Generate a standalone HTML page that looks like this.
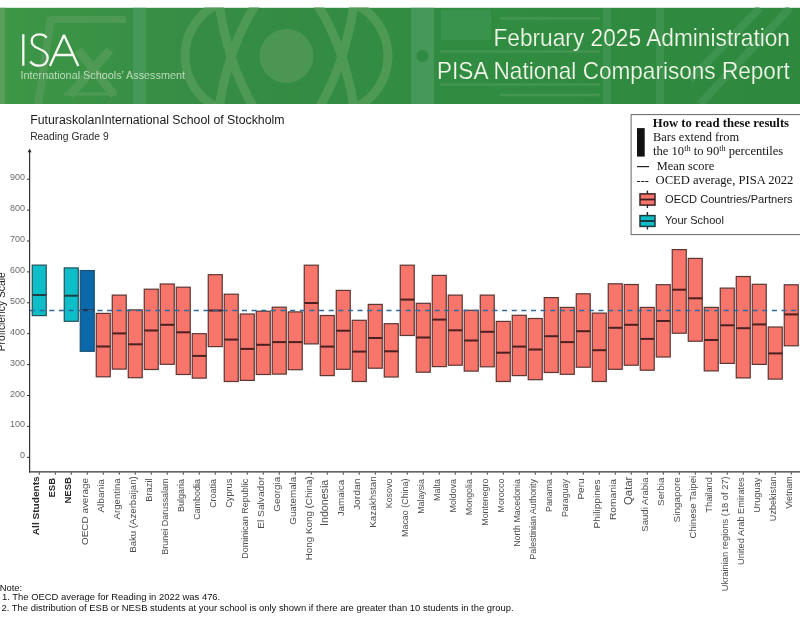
<!DOCTYPE html>
<html><head><meta charset="utf-8"><style>
html,body{margin:0;padding:0;background:#fff;}
body{width:800px;height:640px;overflow:hidden;position:relative;font-family:"Liberation Sans",sans-serif;}
svg{position:absolute;left:0;top:0;will-change:transform;}
text{font-family:"Liberation Sans",sans-serif;}
.serif{font-family:"Liberation Serif",serif;}
</style></head><body>
<svg width="800" height="640" viewBox="0 0 800 640">
<!-- banner -->
<defs>
<clipPath id="bc"><rect x="0" y="7.6" width="800" height="96.4"/></clipPath>
<linearGradient id="bg" x1="0" x2="1" y1="0" y2="0">
<stop offset="0" stop-color="#3d9747"/><stop offset="0.25" stop-color="#368c44"/><stop offset="0.6" stop-color="#308c41"/><stop offset="1" stop-color="#2e893f"/>
</linearGradient>
</defs>
<g clip-path="url(#bc)">
<rect x="0" y="7.6" width="800" height="96.4" fill="url(#bg)"/>
<g fill="none" stroke="#4e9a55" stroke-width="6">
<rect x="0" y="7.6" width="5" height="96.4" fill="#5a9f5a" stroke="none"/>
<rect x="133" y="7.6" width="13" height="96.4" fill="#46975a" stroke="none"/>
<path d="M50 19.5 L126 19.5" stroke-width="7"/>
<path d="M51 17 L38 106" stroke-width="8"/>
<path d="M78 50 L114 95 M110 50 L70 95" stroke-width="9"/>
<path d="M64 94 L117 94" stroke-width="3"/>
<path d="M218 4 C174 26 174 86 218 108 M256 4 Q228 48 219 108 M219 4 Q228 64 254 108" stroke-width="9"/>
<path d="M355 4 C399 26 399 86 355 108 M317 4 Q345 48 354 108 M354 4 Q345 64 319 108" stroke-width="9"/>
<circle cx="286.5" cy="56" r="27" fill="#4a9652" stroke="none"/>
<rect x="411" y="7.6" width="23" height="96.4" fill="#45975a" stroke="none"/>
<circle cx="422.5" cy="56" r="6" fill="#2e8a42" stroke="none"/>
<rect x="441" y="10" width="50" height="30" fill="#3a934c" stroke="none"/>
<path d="M500 18.5 L600 18.5 M440 51.5 L600 51.5 M440 84.5 L600 84.5 M500 95 L600 95" stroke="#43964f" stroke-width="2.5"/>
<path d="M607 8 L607 104 M660 8 L660 104 M790 8 L700 104 M760 8 L690 80" stroke="#3b934d" stroke-width="8"/>
</g>
</g>
<g fill="none" stroke="#f6faf2" stroke-width="2.3">
<line x1="23.3" y1="34.2" x2="23.3" y2="65.8"/>
<path d="M46.6 37.8 C45 35.2 42.5 34.3 39.6 34.3 C35 34.3 31.7 37 31.7 41.2 C31.7 45.5 35 47.3 39.5 49 C44.5 50.9 47.7 53.4 47.7 57.8 C47.7 62.6 44 65.7 39 65.7 C35.2 65.7 32.2 64.2 30.3 61.5"/>
<path d="M49.9 66 L64 35 L78.3 66 M54.6 55 L73.4 55" stroke-linejoin="bevel"/>
</g>
<text x="20.5" y="79" font-size="11" fill="#cfe6cb" stroke="#3a9246" stroke-width="0.12" transform="translate(20.5 0) scale(0.985 1) translate(-20.5 0)">International Schools&#8217; Assessment</text>
<text x="790" y="46.4" font-size="24" fill="#f3f7ea" stroke="#2f8b40" stroke-width="0.2" text-anchor="end" transform="translate(790 0) scale(0.946 1) translate(-790 0)">February 2025 Administration</text>
<text x="789.7" y="78.7" font-size="24" fill="#f3f7ea" stroke="#2f8b40" stroke-width="0.2" text-anchor="end" transform="translate(789.7 0) scale(0.941 1) translate(-789.7 0)">PISA National Comparisons Report</text>

<!-- titles -->
<text x="30.2" y="123.7" font-size="12.3" fill="#1a1a1a">FuturaskolanInternational School of Stockholm</text>
<text x="30.2" y="140.2" font-size="10.3" fill="#2a2a2a">Reading Grade 9</text>

<!-- legend -->
<rect x="631.1" y="114.6" width="180" height="120" fill="#fff" stroke="#666" stroke-width="1"/>
<text class="serif" x="652.8" y="126.6" font-size="12.7" font-weight="700" fill="#111">How to read these results</text>
<rect x="637" y="128.1" width="7.7" height="28.5" fill="#111"/>
<text class="serif" x="653" y="140.8" font-size="12.4" fill="#151515">Bars extend from</text>
<text class="serif" x="653" y="155" font-size="12.6" fill="#151515">the 10<tspan font-size="8.2" dy="-4.5">th</tspan><tspan dy="4.5"> to 90</tspan><tspan font-size="8.2" dy="-4.5">th</tspan><tspan dy="4.5"> percentiles</tspan></text>
<line x1="637" x2="649" y1="166.6" y2="166.6" stroke="#222" stroke-width="1.2"/>
<text class="serif" x="656.7" y="169.7" font-size="12.4" fill="#151515">Mean score</text>
<text class="serif" x="636.5" y="184.3" font-size="12.4" fill="#151515">---</text>
<text class="serif" x="655.6" y="184.3" font-size="12.6" fill="#151515">OCED average, PISA 2022</text>
<line x1="647.4" x2="647.4" y1="190.6" y2="208" stroke="#222" stroke-width="1.4"/>
<rect x="640" y="193.9" width="15" height="11.2" fill="#f7756b" stroke="#3a2424" stroke-width="1.5"/>
<line x1="640" x2="655" y1="199.5" y2="199.5" stroke="#3a1c1c" stroke-width="1.8"/>
<text x="665" y="203.3" font-size="11.1" fill="#1a1a1a">OECD Countries/Partners</text>
<line x1="647.4" x2="647.4" y1="212" y2="229.5" stroke="#222" stroke-width="1.4"/>
<rect x="640" y="215.6" width="15" height="10.8" fill="#0dbdc7" stroke="#1f3a40" stroke-width="1.5"/>
<line x1="640" x2="655" y1="221" y2="221" stroke="#1a3035" stroke-width="1.8"/>
<text x="665" y="224" font-size="11" fill="#1a1a1a">Your School</text>

<!-- chart -->
<text transform="translate(5.3,311.8) rotate(-90)" text-anchor="middle" font-size="10.3" fill="#222">Proficiency Scale</text>
<text x="25" y="458.30" text-anchor="end" font-size="9" fill="#6b6b6b">0</text>
<text x="25" y="427.40" text-anchor="end" font-size="9" fill="#6b6b6b">100</text>
<text x="25" y="396.50" text-anchor="end" font-size="9" fill="#6b6b6b">200</text>
<text x="25" y="365.60" text-anchor="end" font-size="9" fill="#6b6b6b">300</text>
<text x="25" y="334.70" text-anchor="end" font-size="9" fill="#6b6b6b">400</text>
<text x="25" y="303.80" text-anchor="end" font-size="9" fill="#6b6b6b">500</text>
<text x="25" y="272.90" text-anchor="end" font-size="9" fill="#6b6b6b">600</text>
<text x="25" y="242.00" text-anchor="end" font-size="9" fill="#6b6b6b">700</text>
<text x="25" y="211.10" text-anchor="end" font-size="9" fill="#6b6b6b">800</text>
<text x="25" y="180.20" text-anchor="end" font-size="9" fill="#6b6b6b">900</text>
<rect x="32.25" y="265.10" width="14" height="50.50" fill="#0dbdc7" stroke="#24525a" stroke-width="1.2"/>
<line x1="32.25" x2="46.25" y1="295.00" y2="295.00" stroke="#1f3f44" stroke-width="2"/>
<rect x="64.25" y="267.90" width="14" height="53.40" fill="#0dbdc7" stroke="#24525a" stroke-width="1.2"/>
<line x1="64.25" x2="78.25" y1="295.70" y2="295.70" stroke="#1f3f44" stroke-width="2"/>
<rect x="80.25" y="270.55" width="14" height="80.75" fill="#0b68aa" stroke="#1d4f72" stroke-width="1.2"/>
<line x1="80.25" x2="94.25" y1="310.10" y2="310.10" stroke="#1b3550" stroke-width="2"/>
<rect x="96.25" y="313.40" width="14" height="63.40" fill="#f7756b" stroke="#5c3632" stroke-width="1.2"/>
<line x1="96.25" x2="110.25" y1="346.50" y2="346.50" stroke="#4a2020" stroke-width="2"/>
<rect x="112.25" y="295.10" width="14" height="74.00" fill="#f7756b" stroke="#5c3632" stroke-width="1.2"/>
<line x1="112.25" x2="126.25" y1="333.40" y2="333.40" stroke="#4a2020" stroke-width="2"/>
<rect x="128.25" y="309.90" width="14" height="67.80" fill="#f7756b" stroke="#5c3632" stroke-width="1.2"/>
<line x1="128.25" x2="142.25" y1="344.30" y2="344.30" stroke="#4a2020" stroke-width="2"/>
<rect x="144.25" y="289.20" width="14" height="80.30" fill="#f7756b" stroke="#5c3632" stroke-width="1.2"/>
<line x1="144.25" x2="158.25" y1="330.50" y2="330.50" stroke="#4a2020" stroke-width="2"/>
<rect x="160.25" y="284.00" width="14" height="80.30" fill="#f7756b" stroke="#5c3632" stroke-width="1.2"/>
<line x1="160.25" x2="174.25" y1="324.80" y2="324.80" stroke="#4a2020" stroke-width="2"/>
<rect x="176.25" y="287.20" width="14" height="87.30" fill="#f7756b" stroke="#5c3632" stroke-width="1.2"/>
<line x1="176.25" x2="190.25" y1="332.30" y2="332.30" stroke="#4a2020" stroke-width="2"/>
<rect x="192.25" y="333.70" width="14" height="44.40" fill="#f7756b" stroke="#5c3632" stroke-width="1.2"/>
<line x1="192.25" x2="206.25" y1="355.90" y2="355.90" stroke="#4a2020" stroke-width="2"/>
<rect x="208.25" y="274.70" width="14" height="71.90" fill="#f7756b" stroke="#5c3632" stroke-width="1.2"/>
<line x1="208.25" x2="222.25" y1="310.50" y2="310.50" stroke="#4a2020" stroke-width="2"/>
<rect x="224.25" y="294.20" width="14" height="87.30" fill="#f7756b" stroke="#5c3632" stroke-width="1.2"/>
<line x1="224.25" x2="238.25" y1="339.60" y2="339.60" stroke="#4a2020" stroke-width="2"/>
<rect x="240.25" y="314.00" width="14" height="66.40" fill="#f7756b" stroke="#5c3632" stroke-width="1.2"/>
<line x1="240.25" x2="254.25" y1="348.90" y2="348.90" stroke="#4a2020" stroke-width="2"/>
<rect x="256.25" y="311.20" width="14" height="63.30" fill="#f7756b" stroke="#5c3632" stroke-width="1.2"/>
<line x1="256.25" x2="270.25" y1="344.80" y2="344.80" stroke="#4a2020" stroke-width="2"/>
<rect x="272.25" y="307.20" width="14" height="66.90" fill="#f7756b" stroke="#5c3632" stroke-width="1.2"/>
<line x1="272.25" x2="286.25" y1="342.10" y2="342.10" stroke="#4a2020" stroke-width="2"/>
<rect x="288.25" y="311.90" width="14" height="57.80" fill="#f7756b" stroke="#5c3632" stroke-width="1.2"/>
<line x1="288.25" x2="302.25" y1="342.10" y2="342.10" stroke="#4a2020" stroke-width="2"/>
<rect x="304.25" y="265.20" width="14" height="78.70" fill="#f7756b" stroke="#5c3632" stroke-width="1.2"/>
<line x1="304.25" x2="318.25" y1="303.00" y2="303.00" stroke="#4a2020" stroke-width="2"/>
<rect x="320.25" y="315.50" width="14" height="60.10" fill="#f7756b" stroke="#5c3632" stroke-width="1.2"/>
<line x1="320.25" x2="334.25" y1="346.60" y2="346.60" stroke="#4a2020" stroke-width="2"/>
<rect x="336.25" y="290.40" width="14" height="78.90" fill="#f7756b" stroke="#5c3632" stroke-width="1.2"/>
<line x1="336.25" x2="350.25" y1="330.70" y2="330.70" stroke="#4a2020" stroke-width="2"/>
<rect x="352.25" y="320.30" width="14" height="61.20" fill="#f7756b" stroke="#5c3632" stroke-width="1.2"/>
<line x1="352.25" x2="366.25" y1="351.60" y2="351.60" stroke="#4a2020" stroke-width="2"/>
<rect x="368.25" y="304.40" width="14" height="63.80" fill="#f7756b" stroke="#5c3632" stroke-width="1.2"/>
<line x1="368.25" x2="382.25" y1="338.00" y2="338.00" stroke="#4a2020" stroke-width="2"/>
<rect x="384.25" y="323.70" width="14" height="53.30" fill="#f7756b" stroke="#5c3632" stroke-width="1.2"/>
<line x1="384.25" x2="398.25" y1="351.30" y2="351.30" stroke="#4a2020" stroke-width="2"/>
<rect x="400.25" y="265.20" width="14" height="70.30" fill="#f7756b" stroke="#5c3632" stroke-width="1.2"/>
<line x1="400.25" x2="414.25" y1="299.60" y2="299.60" stroke="#4a2020" stroke-width="2"/>
<rect x="416.25" y="303.30" width="14" height="68.90" fill="#f7756b" stroke="#5c3632" stroke-width="1.2"/>
<line x1="416.25" x2="430.25" y1="337.50" y2="337.50" stroke="#4a2020" stroke-width="2"/>
<rect x="432.25" y="275.40" width="14" height="91.20" fill="#f7756b" stroke="#5c3632" stroke-width="1.2"/>
<line x1="432.25" x2="446.25" y1="319.60" y2="319.60" stroke="#4a2020" stroke-width="2"/>
<rect x="448.25" y="295.10" width="14" height="70.10" fill="#f7756b" stroke="#5c3632" stroke-width="1.2"/>
<line x1="448.25" x2="462.25" y1="330.30" y2="330.30" stroke="#4a2020" stroke-width="2"/>
<rect x="464.25" y="310.30" width="14" height="60.80" fill="#f7756b" stroke="#5c3632" stroke-width="1.2"/>
<line x1="464.25" x2="478.25" y1="340.50" y2="340.50" stroke="#4a2020" stroke-width="2"/>
<rect x="480.25" y="295.10" width="14" height="71.70" fill="#f7756b" stroke="#5c3632" stroke-width="1.2"/>
<line x1="480.25" x2="494.25" y1="331.80" y2="331.80" stroke="#4a2020" stroke-width="2"/>
<rect x="496.25" y="321.40" width="14" height="60.10" fill="#f7756b" stroke="#5c3632" stroke-width="1.2"/>
<line x1="496.25" x2="510.25" y1="352.70" y2="352.70" stroke="#4a2020" stroke-width="2"/>
<rect x="512.25" y="315.30" width="14" height="60.30" fill="#f7756b" stroke="#5c3632" stroke-width="1.2"/>
<line x1="512.25" x2="526.25" y1="346.60" y2="346.60" stroke="#4a2020" stroke-width="2"/>
<rect x="528.25" y="318.50" width="14" height="61.20" fill="#f7756b" stroke="#5c3632" stroke-width="1.2"/>
<line x1="528.25" x2="542.25" y1="349.50" y2="349.50" stroke="#4a2020" stroke-width="2"/>
<rect x="544.25" y="297.60" width="14" height="74.90" fill="#f7756b" stroke="#5c3632" stroke-width="1.2"/>
<line x1="544.25" x2="558.25" y1="336.20" y2="336.20" stroke="#4a2020" stroke-width="2"/>
<rect x="560.25" y="307.40" width="14" height="66.90" fill="#f7756b" stroke="#5c3632" stroke-width="1.2"/>
<line x1="560.25" x2="574.25" y1="342.10" y2="342.10" stroke="#4a2020" stroke-width="2"/>
<rect x="576.25" y="293.80" width="14" height="73.40" fill="#f7756b" stroke="#5c3632" stroke-width="1.2"/>
<line x1="576.25" x2="590.25" y1="331.20" y2="331.20" stroke="#4a2020" stroke-width="2"/>
<rect x="592.25" y="313.10" width="14" height="68.40" fill="#f7756b" stroke="#5c3632" stroke-width="1.2"/>
<line x1="592.25" x2="606.25" y1="350.20" y2="350.20" stroke="#4a2020" stroke-width="2"/>
<rect x="608.25" y="283.80" width="14" height="85.50" fill="#f7756b" stroke="#5c3632" stroke-width="1.2"/>
<line x1="608.25" x2="622.25" y1="327.80" y2="327.80" stroke="#4a2020" stroke-width="2"/>
<rect x="624.25" y="284.50" width="14" height="80.70" fill="#f7756b" stroke="#5c3632" stroke-width="1.2"/>
<line x1="624.25" x2="638.25" y1="324.80" y2="324.80" stroke="#4a2020" stroke-width="2"/>
<rect x="640.25" y="307.40" width="14" height="62.80" fill="#f7756b" stroke="#5c3632" stroke-width="1.2"/>
<line x1="640.25" x2="654.25" y1="338.90" y2="338.90" stroke="#4a2020" stroke-width="2"/>
<rect x="656.25" y="284.70" width="14" height="72.30" fill="#f7756b" stroke="#5c3632" stroke-width="1.2"/>
<line x1="656.25" x2="670.25" y1="321.00" y2="321.00" stroke="#4a2020" stroke-width="2"/>
<rect x="672.25" y="249.60" width="14" height="83.60" fill="#f7756b" stroke="#5c3632" stroke-width="1.2"/>
<line x1="672.25" x2="686.25" y1="289.70" y2="289.70" stroke="#4a2020" stroke-width="2"/>
<rect x="688.25" y="258.40" width="14" height="82.80" fill="#f7756b" stroke="#5c3632" stroke-width="1.2"/>
<line x1="688.25" x2="702.25" y1="298.30" y2="298.30" stroke="#4a2020" stroke-width="2"/>
<rect x="704.25" y="307.40" width="14" height="63.50" fill="#f7756b" stroke="#5c3632" stroke-width="1.2"/>
<line x1="704.25" x2="718.25" y1="340.00" y2="340.00" stroke="#4a2020" stroke-width="2"/>
<rect x="720.25" y="288.10" width="14" height="75.30" fill="#f7756b" stroke="#5c3632" stroke-width="1.2"/>
<line x1="720.25" x2="734.25" y1="325.30" y2="325.30" stroke="#4a2020" stroke-width="2"/>
<rect x="736.25" y="276.50" width="14" height="101.40" fill="#f7756b" stroke="#5c3632" stroke-width="1.2"/>
<line x1="736.25" x2="750.25" y1="328.20" y2="328.20" stroke="#4a2020" stroke-width="2"/>
<rect x="752.25" y="284.30" width="14" height="80.10" fill="#f7756b" stroke="#5c3632" stroke-width="1.2"/>
<line x1="752.25" x2="766.25" y1="324.40" y2="324.40" stroke="#4a2020" stroke-width="2"/>
<rect x="768.25" y="327.00" width="14" height="52.10" fill="#f7756b" stroke="#5c3632" stroke-width="1.2"/>
<line x1="768.25" x2="782.25" y1="353.40" y2="353.40" stroke="#4a2020" stroke-width="2"/>
<rect x="784.25" y="284.80" width="14" height="61.00" fill="#f7756b" stroke="#5c3632" stroke-width="1.2"/>
<line x1="784.25" x2="798.25" y1="314.40" y2="314.40" stroke="#4a2020" stroke-width="2"/>
<line x1="30" x2="800" y1="310.4" y2="310.4" stroke="#2f6a9e" stroke-width="1.5" stroke-dasharray="5 4.635"/>
<line x1="29.6" x2="29.6" y1="151" y2="472.5" stroke="#333" stroke-width="1.2"/>
<path d="M29.6 148.8 L31.6 152.2 L27.6 152.2 Z" fill="#222"/>
<line x1="29" x2="800" y1="471.9" y2="471.9" stroke="#333" stroke-width="1.3"/>
<line x1="27" x2="29.6" y1="457.30" y2="457.30" stroke="#333" stroke-width="1"/>
<line x1="27" x2="29.6" y1="426.40" y2="426.40" stroke="#333" stroke-width="1"/>
<line x1="27" x2="29.6" y1="395.50" y2="395.50" stroke="#333" stroke-width="1"/>
<line x1="27" x2="29.6" y1="364.60" y2="364.60" stroke="#333" stroke-width="1"/>
<line x1="27" x2="29.6" y1="333.70" y2="333.70" stroke="#333" stroke-width="1"/>
<line x1="27" x2="29.6" y1="302.80" y2="302.80" stroke="#333" stroke-width="1"/>
<line x1="27" x2="29.6" y1="271.90" y2="271.90" stroke="#333" stroke-width="1"/>
<line x1="27" x2="29.6" y1="241.00" y2="241.00" stroke="#333" stroke-width="1"/>
<line x1="27" x2="29.6" y1="210.10" y2="210.10" stroke="#333" stroke-width="1"/>
<line x1="27" x2="29.6" y1="179.20" y2="179.20" stroke="#333" stroke-width="1"/>
<line x1="39.25" x2="39.25" y1="472.5" y2="474.6" stroke="#333" stroke-width="1"/>
<line x1="55.25" x2="55.25" y1="472.5" y2="474.6" stroke="#333" stroke-width="1"/>
<line x1="71.25" x2="71.25" y1="472.5" y2="474.6" stroke="#333" stroke-width="1"/>
<line x1="87.25" x2="87.25" y1="472.5" y2="474.6" stroke="#333" stroke-width="1"/>
<line x1="103.25" x2="103.25" y1="472.5" y2="474.6" stroke="#333" stroke-width="1"/>
<line x1="119.25" x2="119.25" y1="472.5" y2="474.6" stroke="#333" stroke-width="1"/>
<line x1="135.25" x2="135.25" y1="472.5" y2="474.6" stroke="#333" stroke-width="1"/>
<line x1="151.25" x2="151.25" y1="472.5" y2="474.6" stroke="#333" stroke-width="1"/>
<line x1="167.25" x2="167.25" y1="472.5" y2="474.6" stroke="#333" stroke-width="1"/>
<line x1="183.25" x2="183.25" y1="472.5" y2="474.6" stroke="#333" stroke-width="1"/>
<line x1="199.25" x2="199.25" y1="472.5" y2="474.6" stroke="#333" stroke-width="1"/>
<line x1="215.25" x2="215.25" y1="472.5" y2="474.6" stroke="#333" stroke-width="1"/>
<line x1="231.25" x2="231.25" y1="472.5" y2="474.6" stroke="#333" stroke-width="1"/>
<line x1="247.25" x2="247.25" y1="472.5" y2="474.6" stroke="#333" stroke-width="1"/>
<line x1="263.25" x2="263.25" y1="472.5" y2="474.6" stroke="#333" stroke-width="1"/>
<line x1="279.25" x2="279.25" y1="472.5" y2="474.6" stroke="#333" stroke-width="1"/>
<line x1="295.25" x2="295.25" y1="472.5" y2="474.6" stroke="#333" stroke-width="1"/>
<line x1="311.25" x2="311.25" y1="472.5" y2="474.6" stroke="#333" stroke-width="1"/>
<line x1="327.25" x2="327.25" y1="472.5" y2="474.6" stroke="#333" stroke-width="1"/>
<line x1="343.25" x2="343.25" y1="472.5" y2="474.6" stroke="#333" stroke-width="1"/>
<line x1="359.25" x2="359.25" y1="472.5" y2="474.6" stroke="#333" stroke-width="1"/>
<line x1="375.25" x2="375.25" y1="472.5" y2="474.6" stroke="#333" stroke-width="1"/>
<line x1="391.25" x2="391.25" y1="472.5" y2="474.6" stroke="#333" stroke-width="1"/>
<line x1="407.25" x2="407.25" y1="472.5" y2="474.6" stroke="#333" stroke-width="1"/>
<line x1="423.25" x2="423.25" y1="472.5" y2="474.6" stroke="#333" stroke-width="1"/>
<line x1="439.25" x2="439.25" y1="472.5" y2="474.6" stroke="#333" stroke-width="1"/>
<line x1="455.25" x2="455.25" y1="472.5" y2="474.6" stroke="#333" stroke-width="1"/>
<line x1="471.25" x2="471.25" y1="472.5" y2="474.6" stroke="#333" stroke-width="1"/>
<line x1="487.25" x2="487.25" y1="472.5" y2="474.6" stroke="#333" stroke-width="1"/>
<line x1="503.25" x2="503.25" y1="472.5" y2="474.6" stroke="#333" stroke-width="1"/>
<line x1="519.25" x2="519.25" y1="472.5" y2="474.6" stroke="#333" stroke-width="1"/>
<line x1="535.25" x2="535.25" y1="472.5" y2="474.6" stroke="#333" stroke-width="1"/>
<line x1="551.25" x2="551.25" y1="472.5" y2="474.6" stroke="#333" stroke-width="1"/>
<line x1="567.25" x2="567.25" y1="472.5" y2="474.6" stroke="#333" stroke-width="1"/>
<line x1="583.25" x2="583.25" y1="472.5" y2="474.6" stroke="#333" stroke-width="1"/>
<line x1="599.25" x2="599.25" y1="472.5" y2="474.6" stroke="#333" stroke-width="1"/>
<line x1="615.25" x2="615.25" y1="472.5" y2="474.6" stroke="#333" stroke-width="1"/>
<line x1="631.25" x2="631.25" y1="472.5" y2="474.6" stroke="#333" stroke-width="1"/>
<line x1="647.25" x2="647.25" y1="472.5" y2="474.6" stroke="#333" stroke-width="1"/>
<line x1="663.25" x2="663.25" y1="472.5" y2="474.6" stroke="#333" stroke-width="1"/>
<line x1="679.25" x2="679.25" y1="472.5" y2="474.6" stroke="#333" stroke-width="1"/>
<line x1="695.25" x2="695.25" y1="472.5" y2="474.6" stroke="#333" stroke-width="1"/>
<line x1="711.25" x2="711.25" y1="472.5" y2="474.6" stroke="#333" stroke-width="1"/>
<line x1="727.25" x2="727.25" y1="472.5" y2="474.6" stroke="#333" stroke-width="1"/>
<line x1="743.25" x2="743.25" y1="472.5" y2="474.6" stroke="#333" stroke-width="1"/>
<line x1="759.25" x2="759.25" y1="472.5" y2="474.6" stroke="#333" stroke-width="1"/>
<line x1="775.25" x2="775.25" y1="472.5" y2="474.6" stroke="#333" stroke-width="1"/>
<line x1="791.25" x2="791.25" y1="472.5" y2="474.6" stroke="#333" stroke-width="1"/>
<text transform="translate(38.85,535.20) rotate(-90)" font-size="9.74" font-weight="700" fill="#2a2a2a" textLength="58.82" lengthAdjust="spacingAndGlyphs">All Students</text>
<text transform="translate(54.85,497.58) rotate(-90)" font-size="9.41" font-weight="700" fill="#2a2a2a" textLength="19.73" lengthAdjust="spacingAndGlyphs">ESB</text>
<text transform="translate(70.85,503.57) rotate(-90)" font-size="9.37" font-weight="700" fill="#2a2a2a" textLength="26.47" lengthAdjust="spacingAndGlyphs">NESB</text>
<text transform="translate(87.85,544.90) rotate(-90)" font-size="9.61" font-weight="400" fill="#4d4d4d" textLength="67.0" lengthAdjust="spacingAndGlyphs">OECD average</text>
<text transform="translate(103.85,512.60) rotate(-90)" font-size="9.73" font-weight="400" fill="#4d4d4d" textLength="33.56" lengthAdjust="spacingAndGlyphs">Albania</text>
<text transform="translate(119.85,519.40) rotate(-90)" font-size="9.42" font-weight="400" fill="#4d4d4d" textLength="41.11" lengthAdjust="spacingAndGlyphs">Argentina</text>
<text transform="translate(135.85,552.77) rotate(-90)" font-size="9.44" font-weight="400" fill="#4d4d4d" textLength="76.53" lengthAdjust="spacingAndGlyphs">Baku (Azerbaijan)</text>
<text transform="translate(151.85,501.75) rotate(-90)" font-size="9.23" font-weight="400" fill="#4d4d4d" textLength="23.33" lengthAdjust="spacingAndGlyphs">Brazil</text>
<text transform="translate(167.85,554.72) rotate(-90)" font-size="8.98" font-weight="400" fill="#4d4d4d" textLength="76.28" lengthAdjust="spacingAndGlyphs">Brunei Darussalam</text>
<text transform="translate(183.85,512.12) rotate(-90)" font-size="9.01" font-weight="400" fill="#4d4d4d" textLength="33.09" lengthAdjust="spacingAndGlyphs">Bulgaria</text>
<text transform="translate(199.85,519.85) rotate(-90)" font-size="8.97" font-weight="400" fill="#4d4d4d" textLength="40.81" lengthAdjust="spacingAndGlyphs">Cambodia</text>
<text transform="translate(215.85,507.85) rotate(-90)" font-size="8.96" font-weight="400" fill="#4d4d4d" textLength="28.81" lengthAdjust="spacingAndGlyphs">Croatia</text>
<text transform="translate(231.85,507.76) rotate(-90)" font-size="9.12" font-weight="400" fill="#4d4d4d" textLength="29.03" lengthAdjust="spacingAndGlyphs">Cyprus</text>
<text transform="translate(247.85,558.72) rotate(-90)" font-size="8.99" font-weight="400" fill="#4d4d4d" textLength="79.9" lengthAdjust="spacingAndGlyphs">Dominican Republic</text>
<text transform="translate(263.85,528.82) rotate(-90)" font-size="9.83" font-weight="400" fill="#4d4d4d" textLength="52.2" lengthAdjust="spacingAndGlyphs">El Salvador</text>
<text transform="translate(279.85,511.74) rotate(-90)" font-size="9.57" font-weight="400" fill="#4d4d4d" textLength="34.95" lengthAdjust="spacingAndGlyphs">Georgia</text>
<text transform="translate(295.85,524.74) rotate(-90)" font-size="9.55" font-weight="400" fill="#4d4d4d" textLength="47.95" lengthAdjust="spacingAndGlyphs">Guatemala</text>
<text transform="translate(311.85,560.29) rotate(-90)" font-size="9.57" font-weight="400" fill="#4d4d4d" textLength="84.06" lengthAdjust="spacingAndGlyphs">Hong Kong (China)</text>
<text transform="translate(327.85,525.96) rotate(-90)" font-size="10.12" font-weight="400" fill="#4d4d4d" textLength="46.17" lengthAdjust="spacingAndGlyphs">Indonesia</text>
<text transform="translate(343.85,516.35) rotate(-90)" font-size="9.57" font-weight="400" fill="#4d4d4d" textLength="36.56" lengthAdjust="spacingAndGlyphs">Jamaica</text>
<text transform="translate(359.85,510.10) rotate(-90)" font-size="9.93" font-weight="400" fill="#4d4d4d" textLength="31.69" lengthAdjust="spacingAndGlyphs">Jordan</text>
<text transform="translate(375.85,527.79) rotate(-90)" font-size="9.6" font-weight="400" fill="#4d4d4d" textLength="51.59" lengthAdjust="spacingAndGlyphs">Kazakhstan</text>
<text transform="translate(391.85,508.21) rotate(-90)" font-size="8.9" font-weight="400" fill="#4d4d4d" textLength="29.53" lengthAdjust="spacingAndGlyphs">Kosovo</text>
<text transform="translate(407.85,536.96) rotate(-90)" font-size="8.94" font-weight="400" fill="#4d4d4d" textLength="58.44" lengthAdjust="spacingAndGlyphs">Macao (China)</text>
<text transform="translate(423.85,513.80) rotate(-90)" font-size="8.87" font-weight="400" fill="#4d4d4d" textLength="34.77" lengthAdjust="spacingAndGlyphs">Malaysia</text>
<text transform="translate(439.85,500.92) rotate(-90)" font-size="8.96" font-weight="400" fill="#4d4d4d" textLength="21.88" lengthAdjust="spacingAndGlyphs">Malta</text>
<text transform="translate(455.85,512.46) rotate(-90)" font-size="8.89" font-weight="400" fill="#4d4d4d" textLength="33.42" lengthAdjust="spacingAndGlyphs">Moldova</text>
<text transform="translate(471.85,515.21) rotate(-90)" font-size="8.94" font-weight="400" fill="#4d4d4d" textLength="36.18" lengthAdjust="spacingAndGlyphs">Mongolia</text>
<text transform="translate(487.85,525.70) rotate(-90)" font-size="8.87" font-weight="400" fill="#4d4d4d" textLength="47.02" lengthAdjust="spacingAndGlyphs">Montenegro</text>
<text transform="translate(503.85,512.45) rotate(-90)" font-size="8.86" font-weight="400" fill="#4d4d4d" textLength="33.77" lengthAdjust="spacingAndGlyphs">Morocco</text>
<text transform="translate(519.85,546.81) rotate(-90)" font-size="8.93" font-weight="400" fill="#4d4d4d" textLength="67.78" lengthAdjust="spacingAndGlyphs">North Macedonia</text>
<text transform="translate(535.85,559.71) rotate(-90)" font-size="8.9" font-weight="400" fill="#4d4d4d" textLength="80.71" lengthAdjust="spacingAndGlyphs">Palestinian Authority</text>
<text transform="translate(551.85,511.91) rotate(-90)" font-size="8.88" font-weight="400" fill="#4d4d4d" textLength="32.87" lengthAdjust="spacingAndGlyphs">Panama</text>
<text transform="translate(567.85,517.11) rotate(-90)" font-size="8.93" font-weight="400" fill="#4d4d4d" textLength="38.11" lengthAdjust="spacingAndGlyphs">Paraguay</text>
<text transform="translate(583.85,499.61) rotate(-90)" font-size="9.74" font-weight="400" fill="#4d4d4d" textLength="21.27" lengthAdjust="spacingAndGlyphs">Peru</text>
<text transform="translate(599.85,528.51) rotate(-90)" font-size="9.79" font-weight="400" fill="#4d4d4d" textLength="49.07" lengthAdjust="spacingAndGlyphs">Philippines</text>
<text transform="translate(615.85,520.02) rotate(-90)" font-size="9.85" font-weight="400" fill="#4d4d4d" textLength="40.98" lengthAdjust="spacingAndGlyphs">Romania</text>
<text transform="translate(631.85,504.95) rotate(-90)" font-size="10.0" font-weight="400" fill="#4d4d4d" textLength="28.35" lengthAdjust="spacingAndGlyphs">Qatar</text>
<text transform="translate(647.85,531.63) rotate(-90)" font-size="9.31" font-weight="400" fill="#4d4d4d" textLength="54.09" lengthAdjust="spacingAndGlyphs">Saudi Arabia</text>
<text transform="translate(663.85,505.89) rotate(-90)" font-size="9.56" font-weight="400" fill="#4d4d4d" textLength="28.35" lengthAdjust="spacingAndGlyphs">Serbia</text>
<text transform="translate(679.85,522.40) rotate(-90)" font-size="9.64" font-weight="400" fill="#4d4d4d" textLength="45.26" lengthAdjust="spacingAndGlyphs">Singapore</text>
<text transform="translate(695.85,538.48) rotate(-90)" font-size="9.37" font-weight="400" fill="#4d4d4d" textLength="62.57" lengthAdjust="spacingAndGlyphs">Chinese Taipei</text>
<text transform="translate(711.85,512.69) rotate(-90)" font-size="9.2" font-weight="400" fill="#4d4d4d" textLength="35.61" lengthAdjust="spacingAndGlyphs">Thailand</text>
<text transform="translate(727.85,591.15) rotate(-90)" font-size="9.21" font-weight="400" fill="#4d4d4d" textLength="114.74" lengthAdjust="spacingAndGlyphs">Ukrainian regions (18 of 27)</text>
<text transform="translate(743.85,564.89) rotate(-90)" font-size="9.15" font-weight="400" fill="#4d4d4d" textLength="87.57" lengthAdjust="spacingAndGlyphs">United Arab Emirates</text>
<text transform="translate(759.85,512.65) rotate(-90)" font-size="9.19" font-weight="400" fill="#4d4d4d" textLength="35.05" lengthAdjust="spacingAndGlyphs">Uruguay</text>
<text transform="translate(775.85,521.13) rotate(-90)" font-size="9.03" font-weight="400" fill="#4d4d4d" textLength="44.74" lengthAdjust="spacingAndGlyphs">Uzbekistan</text>
<text transform="translate(791.85,508.75) rotate(-90)" font-size="8.91" font-weight="400" fill="#4d4d4d" textLength="32.41" lengthAdjust="spacingAndGlyphs">Vietnam</text>

<!-- notes -->
<text x="-0.3" y="590.7" font-size="9.43" fill="#111">Note:</text>
<text x="2" y="600.4" font-size="9.43" fill="#111">1. The OECD average for Reading in 2022 was 476.</text>
<text x="1.5" y="610.9" font-size="9.43" fill="#111">2. The distribution of ESB or NESB students at your school is only shown if there are greater than 10 students in the group.</text>
</svg>
</body></html>
